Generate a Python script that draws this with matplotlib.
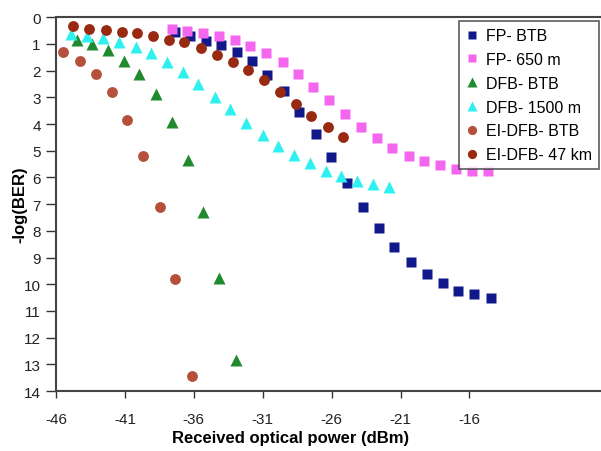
import matplotlib.pyplot as plt

plt.rcParams['font.family'] = ['Liberation Sans', 'DejaVu Sans']
plt.rcParams['axes.unicode_minus'] = False

# Data
fp_btb_x = [-37.36, -36.28, -35.11, -34.05, -32.89, -31.75, -30.67, -29.43, -28.34, -27.13, -26.04,
            -24.86, -23.70, -22.54, -21.45, -20.24, -19.10, -17.89, -16.81, -15.67, -14.45]
fp_btb_y = [0.54, 0.69, 0.88, 1.04, 1.31, 1.65, 2.16, 2.77, 3.54, 4.38, 5.23,
            6.19, 7.09, 7.89, 8.59, 9.15, 9.63, 9.97, 10.25, 10.37, 10.50]

fp_650_x = [-37.60, -36.52, -35.31, -34.15, -33.01, -31.92, -30.78, -29.56, -28.46, -27.33, -26.17,
            -25.03, -23.87, -22.73, -21.60, -20.40, -19.26, -18.11, -16.95, -15.83, -14.63]
fp_650_y = [0.44, 0.50, 0.59, 0.69, 0.84, 1.09, 1.35, 1.69, 2.14, 2.60, 3.10,
            3.63, 4.10, 4.53, 4.90, 5.19, 5.39, 5.53, 5.69, 5.74, 5.74]

dfb_btb_x = [-44.50, -43.41, -42.20, -41.04, -39.95, -38.74, -37.60, -36.40, -35.31, -34.17, -32.96]
dfb_btb_y = [0.84, 1.00, 1.21, 1.63, 2.13, 2.88, 3.93, 5.35, 7.31, 9.78, 12.85]

dfb_1500_x = [-44.91, -43.77, -42.57, -41.43, -40.22, -39.11, -37.97, -36.81, -35.67, -34.46, -33.37,
              -32.21, -31.01, -29.89, -28.73, -27.57, -26.44, -25.32, -24.14, -23.02, -21.86]
dfb_1500_y = [0.63, 0.69, 0.79, 0.94, 1.10, 1.35, 1.69, 2.04, 2.50, 2.98, 3.44,
              3.96, 4.42, 4.81, 5.17, 5.47, 5.75, 5.93, 6.15, 6.24, 6.34]

eidfb_btb_x = [-45.47, -44.26, -43.10, -41.96, -40.83, -39.66, -38.45, -37.36, -36.15]
eidfb_btb_y = [1.29, 1.63, 2.13, 2.81, 3.84, 5.21, 7.12, 9.79, 13.44]

eidfb_47_x = [-44.74, -43.58, -42.39, -41.23, -40.10, -38.94, -37.80, -36.69, -35.50, -34.34, -33.18,
              -32.04, -30.93, -29.74, -28.61, -27.49, -26.28, -25.15]
eidfb_47_y = [0.34, 0.44, 0.48, 0.54, 0.59, 0.70, 0.84, 0.94, 1.15, 1.40, 1.69,
              1.98, 2.35, 2.81, 3.25, 3.71, 4.12, 4.50]

x_ticks = [-46, -41, -36, -31, -26, -21, -16]
y_ticks = list(range(0, 15))

fig = plt.figure(figsize=(6.01, 4.52), dpi=100)
ax = fig.add_axes([0.0932, 0.1327, 0.9068, 0.8268])

ax.plot(fp_btb_x, fp_btb_y, 's', color='#10188a', ms=7.3, mec='none', label='FP- BTB')
ax.plot(fp_650_x, fp_650_y, 's', color='#f466ee', ms=7.3, mec='none', label='FP- 650 m')
ax.plot(dfb_btb_x, dfb_btb_y, '^', color='#1f8a2e', ms=8.5, mec='none', label='DFB- BTB')
ax.plot(dfb_1500_x, dfb_1500_y, '^', color='#2ff0f0', ms=8.5, mec='none', label='DFB- 1500 m')
ax.plot(eidfb_btb_x, eidfb_btb_y, 'o', color='#b5513b', ms=7.8, mec='none', label='EI-DFB- BTB')
ax.plot(eidfb_47_x, eidfb_47_y, 'o', color='#992a12', ms=7.8, mec='none', label='EI-DFB- 47 km')

ax.set_xlim(-46, -6.45)
ax.set_ylim(14, 0)
ax.set_xticks(x_ticks)
ax.set_yticks(y_ticks)
ax.tick_params(direction='out', width=1, colors='#333333', labelsize=11,
               labelcolor='#222222')
ax.tick_params(axis='x', length=5, pad=10)
ax.tick_params(axis='y', length=7, pad=4)
for s in ['left', 'bottom', 'top']:
    ax.spines[s].set_color('#444444')
    ax.spines[s].set_linewidth(1.5)
ax.spines['right'].set_visible(False)

ax.set_xlabel('Received optical power (dBm)', fontsize=12, fontweight='bold')
ax.xaxis.set_label_coords(0.430, -0.104)
ax.set_ylabel('-log(BER)', fontsize=12, fontweight='bold')
ax.yaxis.set_label_coords(-0.053, 0.5)

leg = ax.legend(loc='upper right', bbox_to_anchor=(0.9963, 0.990), fontsize=11.5,
                frameon=True, fancybox=False, edgecolor='#333333', borderpad=0.45,
                handlelength=0.7, handletextpad=0.5, labelspacing=0.55, markerscale=0.85,
                borderaxespad=0)
leg.get_frame().set_linewidth(1.2)

plt.savefig('out.png', dpi=100)
